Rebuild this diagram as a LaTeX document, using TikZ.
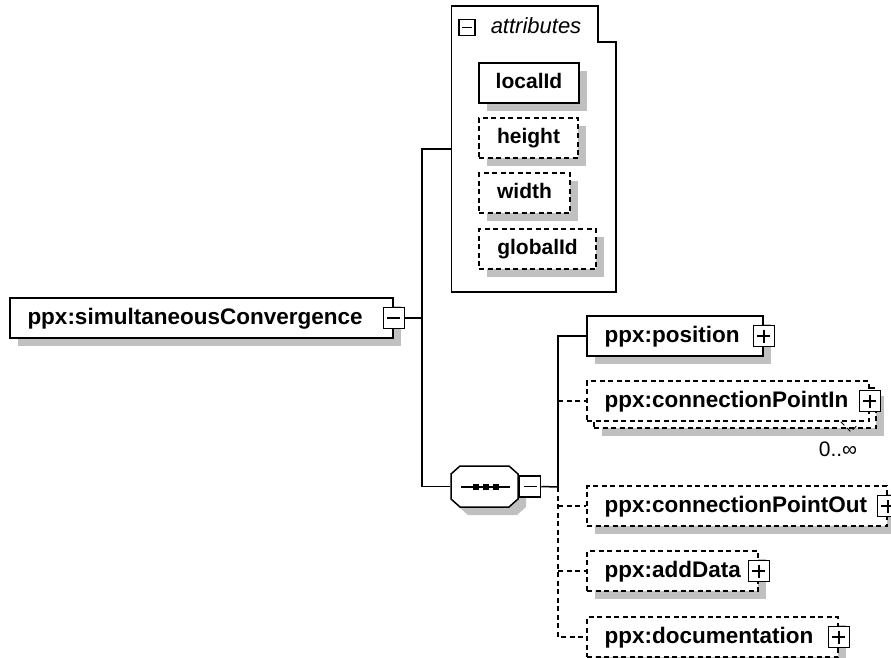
\documentclass[tikz,border=0pt]{standalone}
\usepackage{fontspec}
\setmainfont{Liberation Sans}
\usetikzlibrary{shadows}
\definecolor{shadowgray}{RGB}{192,192,192}

\begin{document}
\begin{tikzpicture}[
    x=1pt, y=-1pt,
    line width=1.5pt,
    dashed/.style={dash pattern=on 5pt off 3.5pt},
    boxshadow/.style={general shadow={fill=shadowgray, shadow xshift=8pt, shadow yshift=-8pt}},
    elembox/.style={
      draw,
      fill=white,
      minimum height=40pt,
      inner xsep=17.5pt,
      inner ysep=0pt,
      text height=16pt,
      text depth=4pt,
      align=left,
      font=\fontsize{22.5}{26}\selectfont\bfseries
    },
    elem/.style={elembox, boxshadow},
    optelem/.style={elem, dashed},
    attr/.style={
      draw,
      fill=white,
      boxshadow,
      minimum height=40pt,
      inner sep=0pt,
      text height=15pt,
      text depth=4pt,
      font=\fontsize{21}{25}\selectfont\bfseries
    },
    optattr/.style={attr, dashed},
    pmbox/.style={draw, fill=white, minimum size=21pt, inner sep=0pt},
    minusbox/.style={pmbox, path picture={
        \draw ([xshift=4pt]path picture bounding box.west) -- ([xshift=-4pt]path picture bounding box.east);}},
    plusbox/.style={pmbox, path picture={
        \draw ([xshift=4pt]path picture bounding box.west) -- ([xshift=-4pt]path picture bounding box.east);
        \draw ([yshift=-4pt]path picture bounding box.north) -- ([yshift=4pt]path picture bounding box.south);}}
  ]
    \useasboundingbox (0,0) rectangle (891,658);

    % root element
    \node[elem, text width=348pt] (main) at (201.5,318) {ppx:simultaneousConvergence};
    \node[minusbox] (mainpm) at (main.east) {};

    % attribute group
    \node[minimum width=163pt, minimum height=284pt, inner sep=0pt] (attrs) at (533.5,149) {};
    \draw (attrs.north west) -| ([xshift=-18pt,yshift=-36pt]attrs.north east) -| (attrs.south east) -- (attrs.south west) -- cycle;
    \node[draw, line width=1.3pt, minimum size=16pt, inner sep=0pt,
          path picture={\draw[line width=1.3pt] ([xshift=3pt]path picture bounding box.west) -- ([xshift=-3pt]path picture bounding box.east);}]
          (attrspm) at (467,27.5) {};
    \node[anchor=base west, inner sep=0pt, font=\fontsize{22}{26}\selectfont\itshape] (attrslabel) at (490,34) {attributes};

    \node[attr, minimum width=100pt] (localid) at (529,83) {localId};
    \node[optattr, minimum width=99pt] (height) at (528.5,138) {height};
    \node[optattr, minimum width=91pt] (width) at (524.5,193) {width};
    \node[optattr, minimum width=117pt] (globalid) at (537.5,249) {globalId};

    % sequence compositor
    \node[minimum width=67pt, minimum height=41pt, inner sep=0pt] (seq) at (484.5,486.5) {};
    \fill[shadowgray] (468,474) -- (517,474) -- (526,482) -- (526,507) -- (517,515) -- (468,515) -- (459,507) -- (459,482) -- cycle;
    \filldraw[fill=white] (460,466) -- (509,466) -- (518,474) -- (518,499) -- (509,507) -- (460,507) -- (451,499) -- (451,474) -- cycle;
    \draw (461,487) -- (510,487);
    \foreach \x in {475.5,485.5,495.5}
      \fill (\x-3,484) rectangle ++(6,6);
    \node[minusbox, anchor=west] (seqpm) at (seq.east) {};

    % child elements
    \node[elem, text width=141pt] (position) at (675,336) {ppx:position};
    \node[plusbox] (positionpm) at (position.east) {};

    \node[optelem, minimum width=282pt] (cpinback) at (735,408) {};
    \node[elembox, dashed, text width=247pt] (cpin) at (728,401) {ppx:connectionPointIn};
    \node[plusbox] (cpinpm) at (cpin.east) {};
    \draw[line width=1pt, dashed] ([xshift=-29pt]cpin.south east) -- ++(10,10) -- ++(7,-7);
    \node[inner sep=0pt, font=\fontsize{21}{25}\selectfont] (cpinmult) at (838,449) {0..∞};

    \node[optelem, text width=265pt] (cpout) at (737,506) {ppx:connectionPointOut};
    \node[plusbox] (cpoutpm) at (cpout.east) {};

    \node[optelem, text width=136pt] (adddata) at (672.5,571) {ppx:addData};
    \node[plusbox] (adddatapm) at (adddata.east) {};

    \node[optelem, text width=216pt] (doc) at (712.5,637) {ppx:documentation};
    \node[plusbox] (docpm) at (doc.east) {};

    % connectors
    \coordinate (trunkA) at (422,318);
    \coordinate (trunkB) at (558,487);
    \draw (mainpm.east) -- (trunkA);
    \draw (attrs.west) -| (trunkA) |- (seq.west);
    \draw (seqpm.east) -- (trunkB);
    \draw (position.west) -| (trunkB);
    \draw[dashed] (trunkB |- cpin.west) -- (cpin.west);
    \draw[dashed] (trunkB) |- (doc.west);
    \draw[dashed] (trunkB |- cpout.west) -- (cpout.west);
    \draw[dashed] (trunkB |- adddata.west) -- (adddata.west);
  \end{tikzpicture}
\end{document}
